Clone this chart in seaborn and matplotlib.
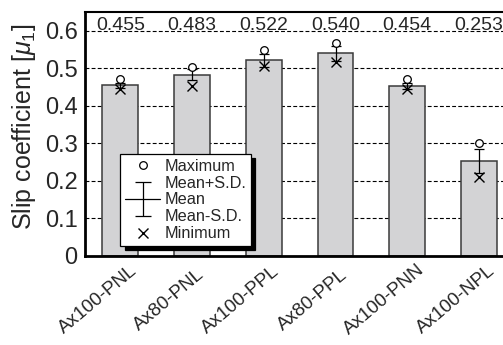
import numpy as np
import matplotlib
matplotlib.use("Agg")
import matplotlib.pyplot as plt
import matplotlib.transforms as mtransforms
from matplotlib.lines import Line2D
import seaborn as sns

# slip coefficient per specimen group
groups = ['Ax100-PNL', 'Ax80-PNL', 'Ax100-PPL', 'Ax80-PPL', 'Ax100-PNN', 'Ax100-NPL']
mean_mu = [0.455, 0.483, 0.522, 0.540, 0.454, 0.253]
sd_mu = [0.006, 0.015, 0.017, 0.020, 0.008, 0.031]
max_mu = [0.472, 0.505, 0.549, 0.569, 0.471, 0.300]
min_mu = [0.444, 0.453, 0.507, 0.516, 0.444, 0.210]
y_ticks = [0, 0.1, 0.2, 0.3, 0.4, 0.5, 0.6]
y_tick_labels = ['0', '0.1', '0.2', '0.3', '0.4', '0.5', '0.6']

sns.set_theme(style='white')
plt.rcParams['font.family'] = ['Liberation Sans', 'DejaVu Sans']
plt.rcParams['mathtext.fontset'] = 'custom'
plt.rcParams['mathtext.rm'] = 'Liberation Sans'
plt.rcParams['mathtext.it'] = 'Liberation Sans:italic'

fig = plt.figure(figsize=(5.03, 3.45), dpi=100)
# the original figure is cropped on the right, so the axes runs past the edge
ax = fig.add_axes([0.168, 0.258, 0.8555, 0.7065])

sns.barplot(x=groups, y=mean_mu, color='#d3d3d5', saturation=1, width=0.5,
            edgecolor='#3a3a3a', linewidth=1.1, errorbar=None, ax=ax, zorder=2)

x = np.arange(len(groups))
ax.errorbar(x, mean_mu, yerr=sd_mu, fmt='none', ecolor='black', elinewidth=0.9,
            capsize=3.5, capthick=0.9, zorder=3)
ax.plot(x, max_mu, 'o', ms=5.5, mfc='white', mec='black', mew=0.9, ls='none', zorder=4)
ax.plot(x, min_mu, 'x', ms=6.5, color='black', mew=1.0, ls='none', zorder=4)

# mean values written along the top gridline
for xi, m in zip(x, mean_mu):
    ax.text(xi, 0.6035, f'{m:.3f}', ha='center', va='baseline', fontsize=14, zorder=5)

ax.set_xlim(-0.5, 5.5)
ax.set_ylim(0, 0.65)
ax.set_yticks(y_ticks)
ax.set_yticklabels(y_tick_labels)
ax.yaxis.grid(True, linestyle=(0, (3.5, 2)), color='black', linewidth=0.8)
ax.xaxis.grid(False)
ax.set_axisbelow(True)
ax.tick_params(axis='y', length=0, pad=5, labelsize=17)
ax.tick_params(axis='x', length=0, pad=34, labelsize=13.6)
ax.set_xlabel('')
ax.set_ylabel(r'Slip coefficient [$\mu_1$]', fontsize=18)
ax.yaxis.set_label_coords(-0.108, 0.53)

for lab in ax.get_xticklabels():
    lab.set_rotation(40)
    lab.set_ha('center')
    lab.set_va('baseline')
    lab.set_rotation_mode('anchor')
    lab.set_transform(lab.get_transform() +
                      mtransforms.ScaledTranslation(-0.2, 0, fig.dpi_scale_trans))

for side in ['left', 'bottom']:
    ax.spines[side].set_linewidth(2.0)
ax.spines['top'].set_linewidth(1.5)
ax.spines['right'].set_linewidth(1.5)
for s in ax.spines.values():
    s.set_color('black')
    s.set_zorder(6)

handles = [
    Line2D([], [], marker='o', ls='none', ms=5.5, mfc='white', mec='black', mew=0.9),
    Line2D([], [], marker='_', ls='none', ms=12, color='black', mew=0.9),
    Line2D([], [], marker='|', ls='-', ms=25, color='black', mew=0.9, lw=0.9),
    Line2D([], [], marker='_', ls='none', ms=12, color='black', mew=0.9),
    Line2D([], [], marker='x', ls='none', ms=6.5, color='black', mew=1.0),
]
labels = ['Maximum', 'Mean+S.D.', 'Mean', 'Mean-S.D.', 'Minimum']
leg = ax.legend(handles, labels, loc='lower left', bbox_to_anchor=(0.0835, 0.04),
                fontsize=11.7, frameon=True, fancybox=False, framealpha=1,
                edgecolor='black', borderpad=0.3, labelspacing=0.12,
                handlelength=2.15, handletextpad=0.25, borderaxespad=0,
                shadow={'color': 'black', 'alpha': 1, 'ox': 3, 'oy': -3})
leg.get_frame().set_linewidth(0.9)
leg.set_zorder(7)

fig.savefig('out.png', dpi=100)
